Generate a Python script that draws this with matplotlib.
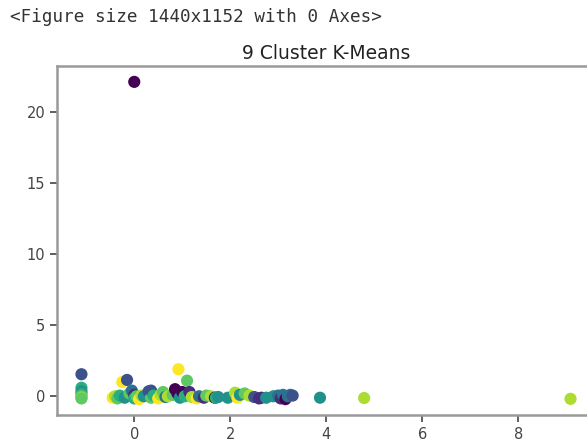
"""9 cluster k-means scatter, as shown in the notebook output."""
import matplotlib
matplotlib.use("Agg")
import matplotlib.pyplot as plt

# cluster points
xs = [-1.1, -1.1, -1.1, -1.1, -1.1, -1.1, -1.1,
      -0.45, -0.4, -0.35, -0.3, -0.25, -0.15, -0.2, -0.1, -0.05, 0.0, 0.0,
      0.05, 0.1, 0.15, 0.2, 0.3, 0.35, 0.35, 0.4, 0.5, 0.55, 0.6, 0.65, 0.7,
      0.8, 0.85, 0.9, 0.92, 0.95, 1.0, 1.05, 1.1, 1.15, 1.2, 1.3, 1.35, 1.45,
      1.5, 1.6, 1.68, 1.7, 1.75, 1.95, 2.1, 2.15, 2.2, 2.3, 2.4, 2.5, 2.6,
      2.65, 2.75, 2.9, 3.0, 3.05, 3.1, 3.15, 3.2, 3.25, 3.3,
      3.87, 4.79, 9.09, 0.0]
ys = [1.55, 0.6, 0.35, 0.15, 0.0, -0.1, -0.15,
      -0.1, 0.0, -0.15, 0.05, 1.0, 1.15, -0.1, 0.2, 0.4, 0.1, -0.15,
      0.0, -0.2, 0.05, 0.0, 0.35, -0.1, 0.4, 0.05, -0.15, 0.1, 0.3, -0.05, 0.0,
      0.1, 0.5, 0.2, 1.9, -0.1, 0.3, 0.0, 1.1, 0.3, -0.05, -0.15, 0.0, -0.1,
      0.05, 0.0, -0.1, -0.1, -0.05, -0.1, 0.25, -0.1, 0.1, 0.2, 0.05, -0.05, -0.15,
      -0.1, -0.1, 0.0, 0.05, -0.15, 0.1, -0.2, 0.0, 0.1, 0.05,
      -0.1, -0.12, -0.18, 22.1]
labels = [2, 5, 4, 5, 6, 7, 6,
          8, 7, 6, 5, 8, 2, 4, 6, 3, 1, 5,
          6, 8, 7, 4, 2, 6, 2, 5, 8, 7, 6, 3, 7,
          6, 0, 0, 8, 4, 0, 5, 6, 1, 7, 8, 3, 1,
          6, 7, 0, 5, 4, 4, 7, 8, 4, 6, 7, 2, 1,
          1, 4, 4, 3, 1, 3, 0, 3, 3, 2,
          4, 7, 7, 0]

fig = plt.figure(figsize=(5.87, 4.43), dpi=100)
fig.text(0.017, 1 - 17 / 443, "<Figure size 1440x1152 with 0 Axes>",
         family="DejaVu Sans Mono", fontsize=12.7, color="#333333", va="center")

ax = fig.add_axes([57 / 587, 28 / 443, 538 / 587, 349 / 443])
ax.scatter(xs, ys, c=labels, cmap="viridis", s=60)
ax.set_title("9 Cluster K-Means", fontsize=13.5, color="#222222", pad=5)

for sp in ax.spines.values():
    sp.set_color("#999999"); sp.set_linewidth(1.8)
ax.tick_params(colors="#444444", labelsize=10.5, length=5, width=1.2)
ax.set_xticks([0, 2, 4, 6, 8])
ax.set_yticks([0, 5, 10, 15, 20])

fig.savefig("out.png", dpi=100)
